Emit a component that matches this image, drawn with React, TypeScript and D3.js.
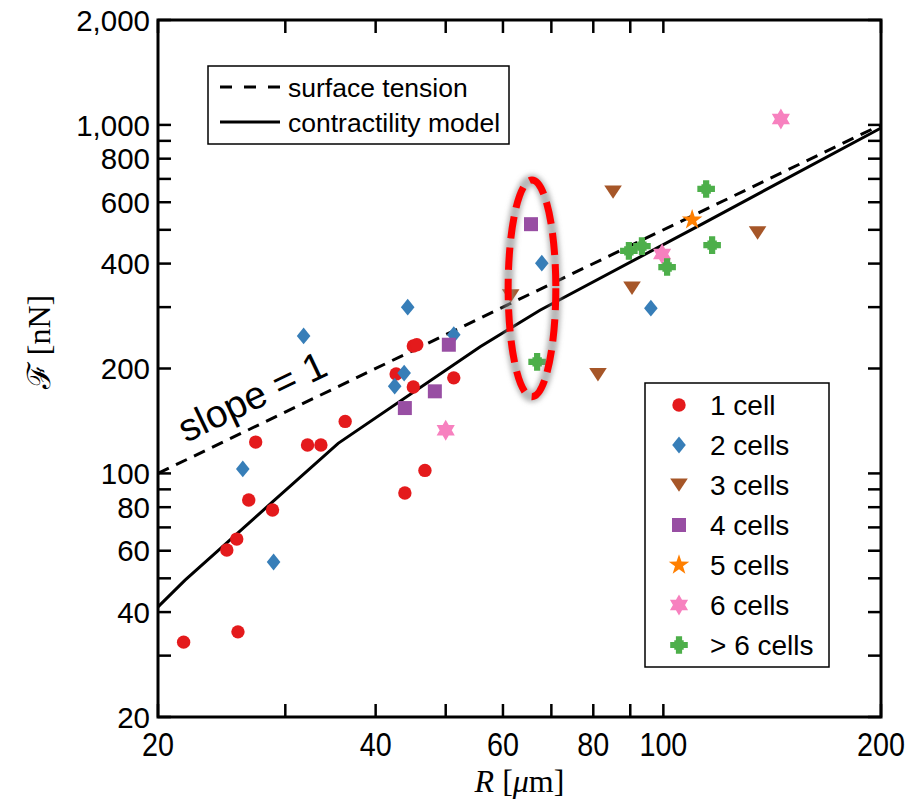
import React from "react";
import * as d3 from "d3";

// data
const groupLabels = ["1 cell", "2 cells", "3 cells", "4 cells", "5 cells", "6 cells", "> 6 cells"];
const groupColors = ["#E41A1C", "#377EB8", "#A65628", "#984EA3", "#FF7F00", "#F781BF", "#4DAF4A"];
const groupShapes = ["circle", "diamond", "triDown", "square", "star5", "hexagram", "plus"];

const oneCellR = [21.7, 25.8, 24.9, 25.7, 26.7, 28.8, 27.3, 32.2, 33.6, 36.3, 42.7, 45.1, 45.6, 45.1, 51.3, 46.8, 43.9];
const oneCellF = [32.8, 35.1, 60.3, 64.8, 83.9, 78.5, 123, 120.6, 120.6, 141, 193, 232, 234, 177, 188, 102, 87.9];
const twoCellR = [26.2, 28.9, 31.8, 42.5, 43.8, 44.3, 51.3, 67.9, 96.1];
const twoCellF = [103, 55.7, 248, 178, 194, 300, 250, 401, 298];
const threeCellR = [85.2, 135, 90.5, 81.2, 61.5];
const threeCellF = [642, 490, 340, 192, 323];
const fourCellR = [43.9, 48.3, 50.5, 65.6];
const fourCellF = [154, 172, 234, 519];
const fiveCellR = [109.6];
const fiveCellF = [534];
const sixCellR = [50.0, 99.6, 145.4];
const sixCellF = [133, 426, 1040];
const manyCellR = [114.6, 116.8, 89.6, 93.4, 101.2, 66.9];
const manyCellF = [655, 452, 435, 449, 391, 209];

const surfaceR = [20, 200];
const surfaceF = [100, 1000];
const modelR = [20, 21.8, 28.8, 35.5, 55.8, 67.5, 112.4, 200];
const modelF = [41.4, 49.4, 82.8, 122, 231, 294, 516, 980];

const xTickLabels = [20, 40, 60, 80, 100, 200];
const yTickLabels = [20, 40, 60, 80, 100, 200, 400, 600, 800, 1000, 2000];

// highlighted group (dashed red ellipse)
const highlightR = [61, 71];
const highlightF = [166, 695];

const seriesR = [oneCellR, twoCellR, threeCellR, fourCellR, fiveCellR, sixCellR, manyCellR];
const seriesF = [oneCellF, twoCellF, threeCellF, fourCellF, fiveCellF, sixCellF, manyCellF];

const W = 914;
const H = 801;
const left = 158, right = 881, top = 20, bottom = 717;
const sans = "'Liberation Sans', Arial, Helvetica, sans-serif";
const serif = "'Liberation Serif', 'DejaVu Serif', serif";

const starPath = (outer: number, inner: number, n: number) => {
  const pts: string[] = [];
  for (let i = 0; i < 2 * n; i++) {
    const r = i % 2 === 0 ? outer : inner;
    const a = -Math.PI / 2 + (i * Math.PI) / n;
    pts.push(`${(r * Math.cos(a)).toFixed(2)},${(r * Math.sin(a)).toFixed(2)}`);
  }
  return "M" + pts.join("L") + "Z";
};

const triPath = (r: number, start: number) => {
  const pts: string[] = [];
  for (let i = 0; i < 3; i++) {
    const a = start + (i * 2 * Math.PI) / 3;
    pts.push(`${(r * Math.cos(a)).toFixed(2)},${(r * Math.sin(a)).toFixed(2)}`);
  }
  return "M" + pts.join("L") + "Z";
};

const shapePath = (kind: string) => {
  switch (kind) {
    case "circle":
      return d3.symbol(d3.symbolCircle, Math.PI * 6.7 * 6.7)() as string;
    case "diamond":
      return "M0,-8.4L6.8,0L0,8.4L-6.8,0Z";
    case "triDown":
      return "M-8.8,-6.6L8.8,-6.6L0,6.8Z";
    case "square":
      return "M-7,-7H7V7H-7Z";
    case "star5":
      return starPath(10.8, 4.2, 5);
    case "hexagram":
      return triPath(10.5, -Math.PI / 2) + triPath(10.5, Math.PI / 2);
    case "plus":
      return "M-3.1,-8.8H3.1V-3.1H8.8V3.1H3.1V8.8H-3.1V3.1H-8.8V-3.1H-3.1Z M-4.7,-4.7H4.7V4.7H-4.7Z";
  }
  return "";
};

const App = () => {
  const x = d3.scaleLog().domain([20, 200]).range([left, right]);
  const y = d3.scaleLog().domain([20, 2000]).range([bottom, top]);
  const fmt = d3.format(",");

  const path = (rs: number[], fs: number[]) =>
    d3
      .line<number>()
      .x((d) => x(d))
      .y((d, i) => y(fs[i]))(rs) as string;

  const xTicks = x.ticks();
  const yTicks = y.ticks();
  const tickLen = 13;

  const ex0 = x(highlightR[0]), ex1 = x(highlightR[1]);
  const ey0 = y(highlightF[1]), ey1 = y(highlightF[0]);

  return (
    <svg width={W} height={H} style={{ position: "absolute", left: 0, top: 0, background: "#fff" }}>
      <defs>
        <filter id="glow" x="-50%" y="-20%" width="200%" height="140%">
          <feGaussianBlur stdDeviation="2.5" />
        </filter>
      </defs>

      {/* ticks */}
      <g stroke="#000" strokeWidth={2.5}>
        {xTicks.map((t) => (
          <g key={"xt" + t}>
            <line x1={x(t)} x2={x(t)} y1={bottom} y2={bottom - tickLen} />
            <line x1={x(t)} x2={x(t)} y1={top} y2={top + tickLen} />
          </g>
        ))}
        {yTicks.map((t) => (
          <g key={"yt" + t}>
            <line x1={left} x2={left + tickLen} y1={y(t)} y2={y(t)} />
            <line x1={right} x2={right - tickLen} y1={y(t)} y2={y(t)} />
          </g>
        ))}
      </g>

      {/* tick labels */}
      <g fontFamily={sans} fill="#000">
        {xTickLabels.map((t) => (
          <text
            key={"xl" + t}
            transform={`translate(${x(t)},${bottom + 39}) scale(0.87,1)`}
            textAnchor="middle"
            fontSize={33}
          >
            {fmt(t)}
          </text>
        ))}
        {yTickLabels.map((t) => (
          <text key={"yl" + t} x={left - 8} y={y(t)} dy="0.36em" textAnchor="end" fontSize={29.5}>
            {fmt(t)}
          </text>
        ))}
      </g>

      {/* model lines */}
      <path d={path(surfaceR, surfaceF)} fill="none" stroke="#000" strokeWidth={3} strokeDasharray="12 8" />
      <path d={path(modelR, modelF)} fill="none" stroke="#000" strokeWidth={3} />

      {/* data */}
      {seriesR.map((rs, g) => (
        <g key={"s" + g} fill={groupColors[g]}>
          {rs.map((r, i) => (
            <path key={i} d={shapePath(groupShapes[g])} transform={`translate(${x(r)},${y(seriesF[g][i])})`} />
          ))}
        </g>
      ))}

      {/* highlight ellipse */}
      <ellipse
        cx={(ex0 + ex1) / 2}
        cy={(ey0 + ey1) / 2}
        rx={(ex1 - ex0) / 2}
        ry={(ey1 - ey0) / 2}
        fill="none"
        stroke="#888"
        strokeOpacity={0.6}
        strokeWidth={11}
        filter="url(#glow)"
      />
      <ellipse
        cx={(ex0 + ex1) / 2}
        cy={(ey0 + ey1) / 2}
        rx={(ex1 - ex0) / 2}
        ry={(ey1 - ey0) / 2}
        fill="none"
        stroke="#FF0000"
        strokeWidth={7}
        strokeDasharray="22 9"
      />

      {/* slope annotation */}
      <text
        transform={`translate(186,443) rotate(-25.5)`}
        fontFamily={sans}
        fontSize={39}
        fill="#000"
      >
        slope = 1
      </text>

      {/* legend 1 */}
      <rect x={208} y={66} width={301} height={78} fill="#fff" stroke="#000" strokeWidth={1.5} />
      <line x1={220} x2={280} y1={87} y2={87} stroke="#000" strokeWidth={3} strokeDasharray="12 12" />
      <line x1={220} x2={280} y1={122} y2={122} stroke="#000" strokeWidth={3} />
      <text x={288} y={87} dy="0.36em" fontFamily={sans} fontSize={26.5}>
        surface tension
      </text>
      <text x={288} y={122} dy="0.36em" fontFamily={sans} fontSize={26.5}>
        contractility model
      </text>

      {/* legend 2 */}
      <rect x={645} y={383} width={184} height={284} fill="#fff" stroke="#000" strokeWidth={1.5} />
      {groupLabels.map((lab, g) => (
        <g key={"lg" + g} transform={`translate(0,${405 + g * 40})`}>
          <path d={shapePath(groupShapes[g])} transform="translate(679,0)" fill={groupColors[g]} />
          <text x={710} dy="0.36em" fontFamily={sans} fontSize={28}>
            {lab}
          </text>
        </g>
      ))}

      {/* frame */}
      <rect x={left} y={top} width={right - left} height={bottom - top} fill="none" stroke="#000" strokeWidth={3} />

      {/* axis titles */}
      <text x={(left + right) / 2} y={792} textAnchor="middle" fontFamily={serif} fontSize={32}>
        <tspan fontStyle="italic">R</tspan>
        {" ["}
        <tspan fontStyle="italic">μ</tspan>
        {"m]"}
      </text>
      <text transform="translate(50,342) rotate(-90)" textAnchor="middle" fontFamily={serif} fontSize={32}>
        {"ℱ [nN]"}
      </text>
    </svg>
  );
};

export default App;
